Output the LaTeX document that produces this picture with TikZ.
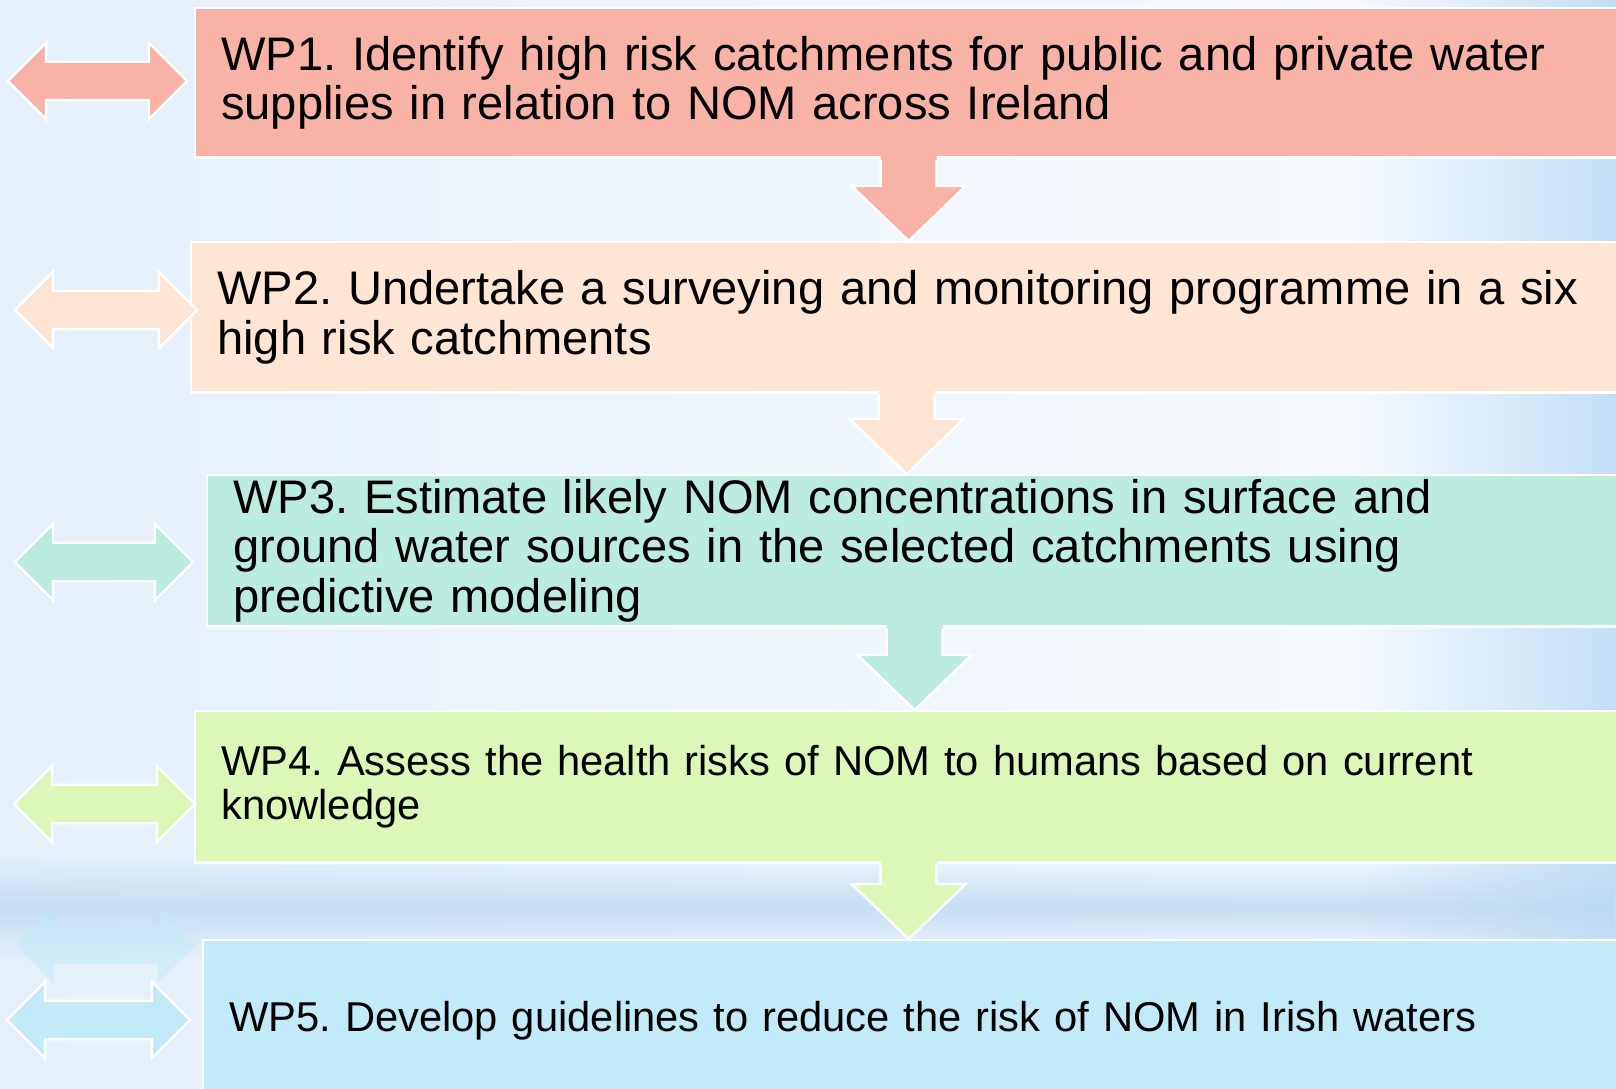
\documentclass[tikz,border=0pt]{standalone}
\usepackage{fontspec}
\setmainfont{Liberation Sans}
\usetikzlibrary{calc, shapes.arrows, fadings}

\definecolor{wpone}{HTML}{F9B3A6}
\definecolor{wptwo}{HTML}{FFE5D4}
\definecolor{wpthree}{HTML}{BCEBDF}
\definecolor{wpfour}{HTML}{DDF7B8}
\definecolor{wpfive}{HTML}{C2EAF9}
\definecolor{bgleft}{HTML}{E5F0FA}
\definecolor{bgmid}{HTML}{F6FAFE}
\definecolor{bgedge}{HTML}{C3DFF7}
\definecolor{bgband}{HTML}{B8D7F2}

\tikzfading[name=bandfade, top color=transparent!100, bottom color=transparent!100, middle color=transparent!25]

% 向下的块状箭头: #1 上方框, #2 下方框, #3 颜色
\newcommand{\downflow}[3]{%
    \fill[#3] ($(#1.south)+(-28,-3)$) -- ($(#1.south |- #2.north)+(-28,-55)$)
        -- ($(#1.south |- #2.north)+(-57,-55)$) -- (#1.south |- #2.north)
        -- ($(#1.south |- #2.north)+(57,-55)$) -- ($(#1.south |- #2.north)+(28,-55)$)
        -- ($(#1.south)+(28,-3)$) -- cycle;
    \draw[flowline] ($(#1.south)+(-28,1)$) -- ($(#1.south |- #2.north)+(-28,-55)$)
        -- ($(#1.south |- #2.north)+(-57,-55)$) -- (#1.south |- #2.north)
        -- ($(#1.south |- #2.north)+(57,-55)$) -- ($(#1.south |- #2.north)+(28,-55)$)
        -- ($(#1.south)+(28,1)$);
}

\begin{document}
\frenchspacing
\begin{tikzpicture}[
    x=0.01cm, y=-0.01cm,
    wpbox/.style={draw=white, line width=0.7pt, anchor=north west, align=left,
        inner xsep=0.26cm, inner ysep=0pt, text width=#1,
        font=\fontsize{13.39}{14.1}\selectfont},
    small/.style={font=\fontsize{11.86}{12.5}\selectfont},
    sidearrow/.style={double arrow, double arrow tip angle=90,
        double arrow head extend=0.19cm, inner xsep=0pt, inner ysep=0.18cm,
        draw=white, line width=0.7pt, minimum height=1.8cm, minimum width=0.74cm},
    flowline/.style={draw=white, line width=0.7pt, line join=miter}
]
    \useasboundingbox (0,0) rectangle (1616,1089);

    % 背景
    \shade[left color=bgleft, right color=bgmid] (0,0) rectangle (1350,1089);
    \shade[left color=bgmid, right color=bgedge] (1350,0) rectangle (1616,1089);
    \shade[left color=bgband, middle color=white, right color=bgband,
        path fading=bandfade] (0,855) rectangle (1616,960);

    % 工作包方框 (5个)
    \node[wpbox=13.74cm, fill=wpone, minimum height=1.49cm] (wp1) at (194,7)
        {WP1. Identify high risk catchments for public and private water\\supplies in relation to NOM across Ireland};
    \node[wpbox=13.78cm, fill=wptwo, minimum height=1.50cm] (wp2) at (190,241)
        {WP2. Undertake a surveying and monitoring programme in a six\\high risk catchments};
    \node[wpbox=13.62cm, fill=wpthree, minimum height=1.51cm] (wp3) at (206,474)
        {WP3. Estimate likely NOM concentrations in surface and\\ground water sources in the selected catchments using\\predictive modeling};
    \node[wpbox=13.74cm, small, fill=wpfour, minimum height=1.51cm] (wp4) at (194,710)
        {WP4. Assess the health risks of NOM to humans based on current\\knowledge};
    \node[wpbox=13.66cm, small, fill=wpfive, minimum height=1.60cm] (wp5) at (202,939)
        {WP5. Develop guidelines to reduce the risk of NOM in Irish waters};

    % 方框之间的向下箭头
    \downflow{wp1}{wp2}{wpone}
    \downflow{wp2}{wp3}{wptwo}
    \downflow{wp3}{wp4}{wpthree}
    \downflow{wp4}{wp5}{wpfour}

    % 左侧双向箭头
    \node[sidearrow, fill=wpone, minimum height=1.79cm, minimum width=0.73cm] (la1) at (97.5,81) {};
    \node[sidearrow, fill=wptwo, minimum height=1.82cm] (la2) at (106,310) {};
    \node[sidearrow, fill=wpthree, minimum height=1.78cm, minimum width=0.73cm] (la3) at (104,562) {};
    \node[sidearrow, fill=wpfour, minimum height=1.81cm, minimum width=0.76cm] (la4) at (104.5,804) {};
    \node[sidearrow, fill=wpfive, draw=none, fill opacity=0.55] (la0) at (106,945) {};
    \node[sidearrow, fill=wpfive, minimum height=1.83cm, minimum width=0.75cm] (la5) at (98.5,1020) {};

\end{tikzpicture}
\end{document}
